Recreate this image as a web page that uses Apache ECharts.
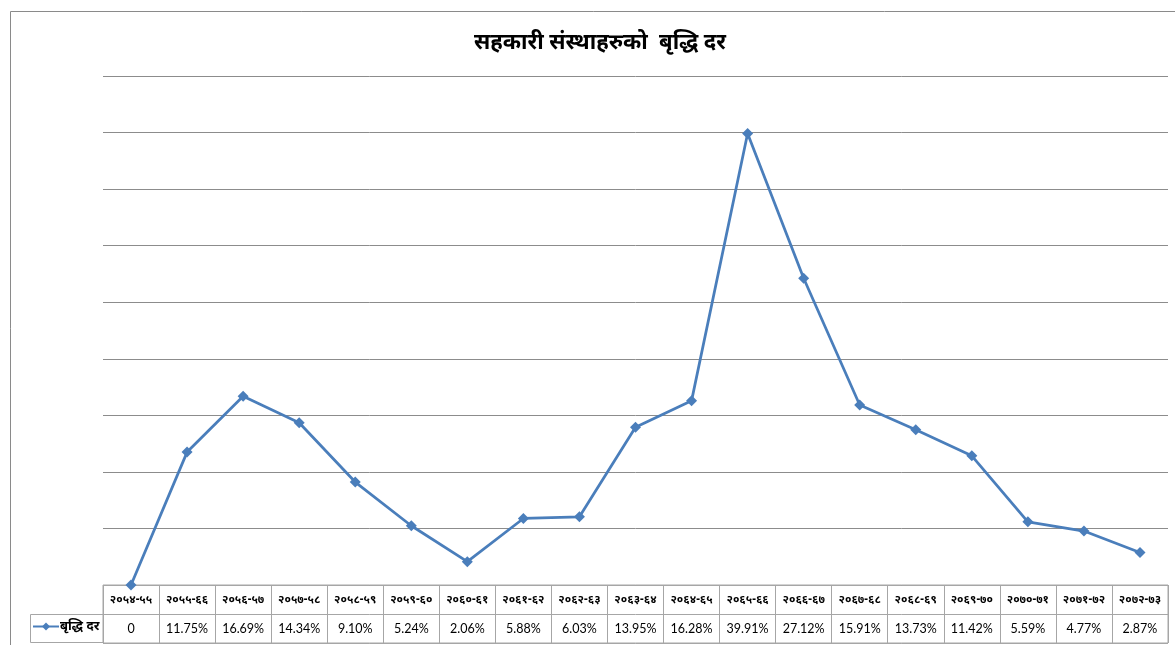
<!DOCTYPE html>
<html>
<head>
<meta charset="utf-8">
<script src="https://cdn.jsdelivr.net/npm/echarts@6/dist/echarts.min.js"></script>
<style>
html,body{margin:0;padding:0;background:#fff;}
#chart{width:1175px;height:645px;}
</style>
</head>
<body>
<div id="chart"></div>
<script>
const titleText = 'सहकारी संस्थाहरुको  बृद्धि दर';
const seriesName = 'बृद्धि दर';
const categories = ['२०५४-५५','२०५५-६६','२०५६-५७','२०५७-५८','२०५८-५९','२०५९-६०','२०६०-६१','२०६१-६२','२०६२-६३','२०६३-६४','२०६४-६५','२०६५-६६','२०६६-६७','२०६७-६८','२०६८-६९','२०६९-७०','२०७०-७१','२०७१-७२','२०७२-७३'];
const growthRate = [0, 11.75, 16.69, 14.34, 9.10, 5.24, 2.06, 5.88, 6.03, 13.95, 16.28, 39.91, 27.12, 15.91, 13.73, 11.42, 5.59, 4.77, 2.87];
const valueLabels = growthRate.map(v => v === 0 ? '0' : v.toFixed(2) + '%');

const chart = echarts.init(document.getElementById('chart'), null, {renderer: 'canvas'});
const devFont = '"Noto Sans", "DejaVu Sans", sans-serif';
const gridColor = '#8c8c8c';
const tableColor = '#a6a6a6';
const lineColor = '#4a7ebb';

chart.setOption({
  animation: false,
  backgroundColor: '#fff',
  title: {
    text: titleText, left: 595, top: 27, textAlign: 'center',
    textStyle: {fontSize: 22, fontWeight: 'bold', color: '#000', fontFamily: devFont}
  },
  legend: {
    data: [seriesName], left: 32, top: 620, itemWidth: 26, itemHeight: 10, itemGap: 0, padding: [0, 0, 0, 0],
    textStyle: {fontSize: 13, fontWeight: 'bold', color: '#000', fontFamily: devFont, padding: [0,0,0,-4]}
  },
  graphic: [
    {type: 'rect', shape: {x: 10.5, y: 11.5, width: 1300, height: 800}, style: {fill: 'none', stroke: '#8a8a8a', lineWidth: 1}, silent: true, z: -10},
    {type: 'rect', shape: {x: 30.5, y: 614.5, width: 73, height: 28}, style: {fill: 'none', stroke: tableColor, lineWidth: 1}, silent: true, z: -5}
  ],
  grid: [
    {left: 103, right: 7, top: 76, bottom: 60},
    {left: 103, right: 7, top: 585, bottom: 2, show: true, borderColor: tableColor, borderWidth: 1}
  ],
  xAxis: [
    {gridIndex: 0, type: 'category', data: categories, boundaryGap: true,
     axisLine: {show: false}, axisTick: {show: false}, axisLabel: {show: false}, splitLine: {show: false}},
    {gridIndex: 1, type: 'category', data: categories, boundaryGap: true, position: 'top',
     axisLine: {show: false}, axisTick: {show: false},
     splitLine: {show: true, lineStyle: {color: tableColor, width: 1}},
     axisLabel: {inside: true, margin: 15, verticalAlign: 'middle', interval: 0, fontSize: 11.5, fontWeight: 'bold', color: '#000', fontFamily: devFont}},
    {gridIndex: 1, type: 'category', data: valueLabels, boundaryGap: true, position: 'bottom',
     axisLine: {show: false}, axisTick: {show: false}, splitLine: {show: false},
     axisLabel: {inside: true, margin: 14, verticalAlign: 'middle', interval: 0, fontSize: 12.5, color: '#000', fontFamily: 'Lato, "Open Sans", sans-serif'}}
  ],
  yAxis: [
    {gridIndex: 0, type: 'value', min: 0, max: 45, interval: 5,
     axisLine: {show: false}, axisTick: {show: false}, axisLabel: {show: false},
     splitLine: {show: true, lineStyle: {color: gridColor, width: 1}}},
    {gridIndex: 1, type: 'value', min: 0, max: 2, interval: 1,
     axisLine: {show: false}, axisTick: {show: false}, axisLabel: {show: false},
     splitLine: {show: true, lineStyle: {color: tableColor, width: 1}}}
  ],
  series: [{
    name: seriesName, type: 'line', xAxisIndex: 0, yAxisIndex: 0, data: growthRate,
    symbol: 'diamond', symbolSize: 11, clip: false,
    lineStyle: {color: lineColor, width: 2.75},
    itemStyle: {color: lineColor}
  }]
});
</script>
</body>
</html>
